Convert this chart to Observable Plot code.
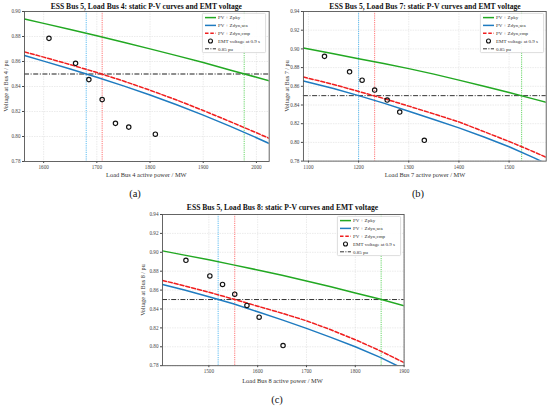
<!DOCTYPE html>
<html><head><meta charset="utf-8">
<script src="https://cdn.jsdelivr.net/npm/d3@7"></script>
<script src="https://cdn.jsdelivr.net/npm/@observablehq/plot@0.6"></script>
<style>
body{margin:0;background:#fff;}
#root{position:relative;width:550px;height:406px;overflow:hidden;font-family:"Liberation Serif","Times New Roman",serif;background:#fff;}
.abs{position:absolute;}
.title{position:absolute;font-weight:bold;font-size:7.6px;white-space:nowrap;transform:translate(-50%,-50%);color:#111;}
.xlab{position:absolute;font-size:6.4px;white-space:nowrap;transform:translate(-50%,-50%);color:#333;}
.ylab{position:absolute;font-size:6.2px;white-space:nowrap;transform:translate(-50%,-50%) rotate(-90deg);color:#333;}
.tag{position:absolute;font-size:10.5px;transform:translate(-50%,-50%);color:#111;}
</style></head><body><div id="root"></div><script>
// ---------- shared labels ----------
const seriesNames = ["PV + Zpky", "PV + Zdyn,sca", "PV + Zdyn,cmp"];
const emtName = "EMT voltage at 0.9 s";
const refName = "0.85 pu";
const refV = 0.85;

// ---------- Panel (a): Load Bus 4 ----------
const titleA = "ESS Bus 5, Load Bus 4: static P-V curves and EMT voltage";
const xLabelA = "Load Bus 4 active power / MW";
const yLabelA = "Voltage at Bus 4 / pu";
const gridA  = [1564, 1600, 1650, 1700, 1750, 1800, 1850, 1900, 1950, 2000, 2024];
const greenA = [0.8940, 0.8905, 0.8856, 0.8806, 0.8754, 0.8701, 0.8647, 0.8592, 0.8532, 0.8474, 0.8446];
const blueA  = [0.8648, 0.8603, 0.8540, 0.8474, 0.8405, 0.8332, 0.8254, 0.8171, 0.8083, 0.7990, 0.7944];
const redA   = [0.8677, 0.8635, 0.8575, 0.8512, 0.8444, 0.8370, 0.8292, 0.8208, 0.8120, 0.8030, 0.7985];
const emtPA  = [1610, 1660, 1685, 1710, 1735, 1760, 1810];
const emtVA  = [0.8785, 0.8585, 0.8455, 0.8295, 0.8105, 0.8075, 0.8018];
const crossA = [1977, 1680, 1710]; // green, blue, red crossings of 0.85 pu
const xTicksA = [1600, 1700, 1800, 1900, 2000];
const yTicksA = [0.78, 0.80, 0.82, 0.84, 0.86, 0.88, 0.90];
const xDomA = [1564, 2024], yDomA = [0.78, 0.90];

// ---------- Panel (b): Load Bus 7 ----------
const titleB = "ESS Bus 5, Load Bus 7: static P-V curves and EMT voltage";
const xLabelB = "Load Bus 7 active power / MW";
const yLabelB = "Voltage at Bus 7 / pu";
const gridB  = [1090, 1150, 1200, 1250, 1300, 1350, 1400, 1450, 1500, 1550, 1575];
const greenB = [0.9010, 0.8948, 0.8895, 0.8843, 0.8789, 0.8730, 0.8666, 0.8600, 0.8533, 0.8463, 0.8428];
const blueB  = [0.8657, 0.8577, 0.8500, 0.8420, 0.8333, 0.8245, 0.8155, 0.8058, 0.7953, 0.7835, 0.7770];
const redB   = [0.8699, 0.8620, 0.8545, 0.8470, 0.8388, 0.8305, 0.8219, 0.8115, 0.8010, 0.7898, 0.7838];
const emtPB  = [1132, 1182, 1207, 1232, 1257, 1282, 1331];
const emtVB  = [0.8920, 0.8755, 0.8665, 0.8560, 0.8453, 0.8325, 0.8023];
const crossB = [1525, 1200, 1232];
const xTicksB = [1100, 1200, 1300, 1400, 1500];
const yTicksB = [0.78, 0.80, 0.82, 0.84, 0.86, 0.88, 0.90, 0.92, 0.94];
const xDomB = [1090, 1574], yDomB = [0.78, 0.94];

// ---------- Panel (c): Load Bus 8 ----------
const titleC = "ESS Bus 5, Load Bus 8: static P-V curves and EMT voltage";
const xLabelC = "Load Bus 8 active power / MW";
const yLabelC = "Voltage at Bus 8 / pu";
const gridC  = [1405, 1450, 1500, 1550, 1600, 1650, 1700, 1750, 1800, 1850, 1900];
const greenC = [0.9015, 0.8970, 0.8920, 0.8867, 0.8813, 0.8757, 0.8697, 0.8635, 0.8570, 0.8505, 0.8435];
const blueC  = [0.8660, 0.8600, 0.8530, 0.8455, 0.8370, 0.8285, 0.8195, 0.8100, 0.8000, 0.7890, 0.7765];
const redC   = [0.8702, 0.8645, 0.8578, 0.8505, 0.8430, 0.8355, 0.8275, 0.8180, 0.8075, 0.7960, 0.7832];
const emtPC  = [1453, 1502, 1528, 1553, 1578, 1603, 1652];
const emtVC  = [0.8915, 0.8750, 0.8660, 0.8557, 0.8437, 0.8313, 0.8013];
const crossC = [1853, 1519, 1553];
const xTicksC = [1500, 1600, 1700, 1800, 1900];
const yTicksC = [0.78, 0.80, 0.82, 0.84, 0.86, 0.88, 0.90, 0.92, 0.94];
const xDomC = [1405, 1900], yDomC = [0.78, 0.94];

// ---------- styling ----------
const colors = ["#22a822", "#1f7bc0", "#f01e1e"];
const vColors = ["#4ccf4c", "#3fb0f0", "#ff5c5c"];

const panels = [
  {tag:"(a)", title:titleA, xl:xLabelA, yl:yLabelA, grid:gridA, series:[greenA, blueA, redA], emtP:emtPA, emtV:emtVA,
   cross:crossA, xt:xTicksA, yt:yTicksA, xd:xDomA, yd:yDomA, frame:[24, 11, 268.7, 161], refStroke:"#6a6a6a", refW:1.4,
   titleY:5.8, xlY:174.3, ylX:4.7, tagX:135, tagY:192.7},
  {tag:"(b)", title:titleB, xl:xLabelB, yl:yLabelB, grid:gridB, series:[greenB, blueB, redB], emtP:emtPB, emtV:emtVB,
   cross:crossB, xt:xTicksB, yt:yTicksB, xd:xDomB, yd:yDomB, frame:[303.3, 11, 546.7, 161], refStroke:"#333", refW:1,
   titleY:5.8, xlY:174.3, ylX:286, tagX:418, tagY:192.7},
  {tag:"(c)", title:titleC, xl:xLabelC, yl:yLabelC, grid:gridC, series:[greenC, blueC, redC], emtP:emtPC, emtV:emtVC,
   cross:crossC, xt:xTicksC, yt:yTicksC, xd:xDomC, yd:yDomC, frame:[161.7, 214.3, 403.3, 365.5], refStroke:"#333", refW:1,
   titleY:207.3, xlY:380, ylX:142, tagX:277, tagY:399}
];

const root = document.getElementById("root");

function addDiv(cls, text, x, y) {
  const d = document.createElement("div");
  d.className = cls; d.textContent = text;
  d.style.left = x + "px"; d.style.top = y + "px";
  root.appendChild(d);
}

function makePanel(p) {
  const ml = 30, mr = 4, mt = 4, mb = 12;
  const [fx0, fy0, fx1, fy1] = p.frame;
  const fw = fx1 - fx0, fh = fy1 - fy0;
  const lineData = p.series.map(vals => p.grid.map((x, i) => ({x, y: vals[i]})));
  const emt = p.emtP.map((x, i) => ({x, y: p.emtV[i]}));
  const marks = [
    Plot.gridX(p.xt, {stroke:"#c8c8c8", strokeOpacity:0.6, strokeDasharray:"1.5,1", strokeWidth:0.6}),
    Plot.gridY(p.yt, {stroke:"#c8c8c8", strokeOpacity:0.6, strokeDasharray:"1.5,1", strokeWidth:0.6}),
  ];
  p.cross.forEach((c, i) => marks.push(Plot.ruleX([c], {stroke: vColors[i], strokeOpacity: 0.85, strokeWidth: 1, strokeDasharray: "1.2,1"})));
  marks.push(Plot.ruleY([refV], {stroke: p.refStroke, strokeWidth: p.refW, strokeDasharray: "5,1.6,1,1.6"}));
  lineData.forEach((d, i) => marks.push(Plot.line(d, {x:"x", y:"y", stroke: colors[i], strokeWidth: 1.5,
    strokeDasharray: i === 2 ? "4,2" : null, clip: true})));
  marks.push(Plot.dot(emt, {x:"x", y:"y", r: 2.2, stroke:"#111", strokeWidth: 1.15, fill: "none"}));
  marks.push(Plot.axisX(p.xt, {tickSize: 2, tickPadding: 1.8, label: null, tickFormat: d => String(d)}));
  marks.push(Plot.axisY(p.yt, {tickSize: 2, tickPadding: 2, label: null, tickFormat: d => d.toFixed(2)}));
  marks.push(Plot.frame({stroke: "#555", strokeWidth: 0.9}));

  const svg = Plot.plot({
    width: fw + ml + mr, height: fh + mt + mb,
    marginLeft: ml, marginRight: mr, marginTop: mt, marginBottom: mb,
    x: {domain: p.xd}, y: {domain: p.yd},
    style: {fontFamily: '"Liberation Serif", serif', fontSize: "5.2px", color: "#444", background: "transparent", overflow: "visible"},
    marks
  });
  const wrap = document.createElement("div");
  wrap.className = "abs";
  wrap.style.left = (fx0 - ml) + "px";
  wrap.style.top = (fy0 - mt) + "px";
  wrap.appendChild(svg);
  root.appendChild(wrap);

  const cx = (fx0 + fx1) / 2, cy = (fy0 + fy1) / 2;
  addDiv("title", p.title, cx, p.titleY);
  addDiv("xlab", p.xl, cx, p.xlY);
  addDiv("ylab", p.yl, p.ylX, cy);
  addDiv("tag", p.tag, p.tagX, p.tagY);

  // legend
  const w = 64, h = 40;
  const lx = fx1 - 2.3 - w, ly = fy0 + 1.6;
  const lg = d3.select(root).append("svg").attr("class", "abs")
    .style("left", lx + "px").style("top", ly + "px").attr("width", w).attr("height", h).style("overflow", "visible");
  lg.append("rect").attr("x", 0.4).attr("y", 0.4).attr("width", w - 0.8).attr("height", h - 0.8).attr("rx", 1)
    .attr("fill", "#fff").attr("fill-opacity", 0.9).attr("stroke", "#cfcfcf").attr("stroke-width", 0.7);
  const items = [
    {name: seriesNames[0], color: colors[0]},
    {name: seriesNames[1], color: colors[1]},
    {name: seriesNames[2], color: colors[2], dash: "3.5,1.8"},
    {name: emtName, dot: true},
    {name: refName, color: "#333", dash: "4,1.4,1,1.4", w: 1}
  ];
  items.forEach((it, i) => {
    const yy = 4.6 + i * 7.8;
    if (it.dot) {
      lg.append("circle").attr("cx", 8.5).attr("cy", yy).attr("r", 2).attr("fill", "none").attr("stroke", "#111").attr("stroke-width", 1.1);
    } else {
      lg.append("line").attr("x1", 3).attr("x2", 14).attr("y1", yy).attr("y2", yy)
        .attr("stroke", it.color).attr("stroke-width", it.w || 1.5).attr("stroke-dasharray", it.dash || null);
    }
    lg.append("text").attr("x", 16).attr("y", yy).attr("dy", "0.35em").attr("font-size", 5)
      .attr("font-family", '"Liberation Serif", serif').attr("fill", "#333").text(it.name);
  });
}

panels.forEach(makePanel);
</script></body></html>
